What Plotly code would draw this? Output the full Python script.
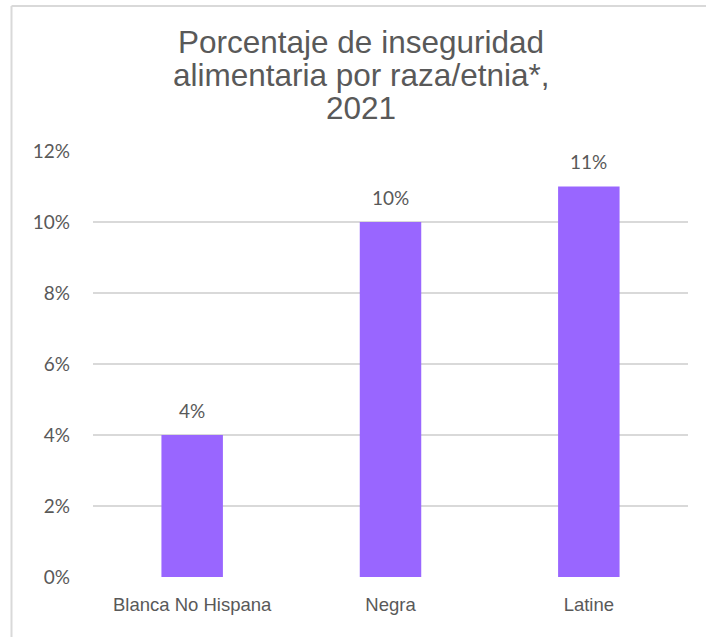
import plotly.graph_objects as go

categories = ["Blanca No Hispana", "Negra", "Latine"]
values = [4, 10, 11]
data_labels = ["4%", "10%", "11%"]
tick_vals = [0, 2, 4, 6, 8, 10, 12]
tick_text = ["0%", "2%", "4%", "6%", "8%", "10%", "12%"]
title_lines = ["Porcentaje de inseguridad", "alimentaria por raza/etnia*,", "2021"]

W, H = 706, 637
L, R, T, B = 93, 18, 151, 60
plot_w = W - L - R
plot_h = H - T - B

fig = go.Figure()
fig.add_trace(go.Bar(
    x=categories, y=values,
    marker=dict(color="#9966FF", line=dict(width=0)),
    width=0.31,
    hoverinfo="skip",
))

for c, v, t in zip(categories, values, data_labels):
    fig.add_annotation(x=c, y=v, text=t, showarrow=False, yshift=25,
                       yanchor="middle",
                       font=dict(family="Lato", size=19, color="#595959"))

# title lines
title_x_px = 361
baselines = [55, 88, 121]
for line, base in zip(title_lines, baselines):
    fig.add_annotation(
        xref="paper", yref="paper",
        x=(title_x_px - L) / plot_w,
        y=(H - B - base) / plot_h,
        yanchor="bottom", xanchor="center",
        yshift=-7,
        text=line, showarrow=False,
        font=dict(family="Liberation Sans", size=31.5, color="#595959"),
    )

# chart border (top and left visible)
bx = (11.5 - L) / plot_w
by = (H - B - 6) / plot_h
fig.add_shape(type="line", xref="paper", yref="paper", x0=bx, x1=(W + 5 - L) / plot_w,
              y0=by, y1=by, line=dict(color="#D9D9D9", width=2))
fig.add_shape(type="line", xref="paper", yref="paper", x0=bx, x1=bx,
              y0=by, y1=-(B + 5) / plot_h, line=dict(color="#D9D9D9", width=2))

fig.update_layout(
    width=W, height=H,
    margin=dict(l=L, r=R, t=T, b=B, pad=0),
    paper_bgcolor="white", plot_bgcolor="white",
    showlegend=False,
    xaxis=dict(
        showgrid=False, zeroline=False, showline=False, ticks="",
        tickfont=dict(family="Liberation Sans", size=18.5, color="#595959"),
        ticklabelstandoff=14,
    ),
    yaxis=dict(
        range=[0, 12], tickvals=tick_vals, ticktext=tick_text,
        showgrid=True, gridcolor="#D9D9D9", gridwidth=2,
        zeroline=False, showline=False, ticks="",
        tickfont=dict(family="Lato", size=19, color="#595959"),
        ticklabelstandoff=22,
    ),
)

fig.write_html(
    "out.html",
    config={"displayModeBar": False},
    post_script=(
        "document.body.style.margin='0';"
        "document.body.style.overflow='hidden';"
        "document.documentElement.style.overflow='hidden';"
    ),
)
